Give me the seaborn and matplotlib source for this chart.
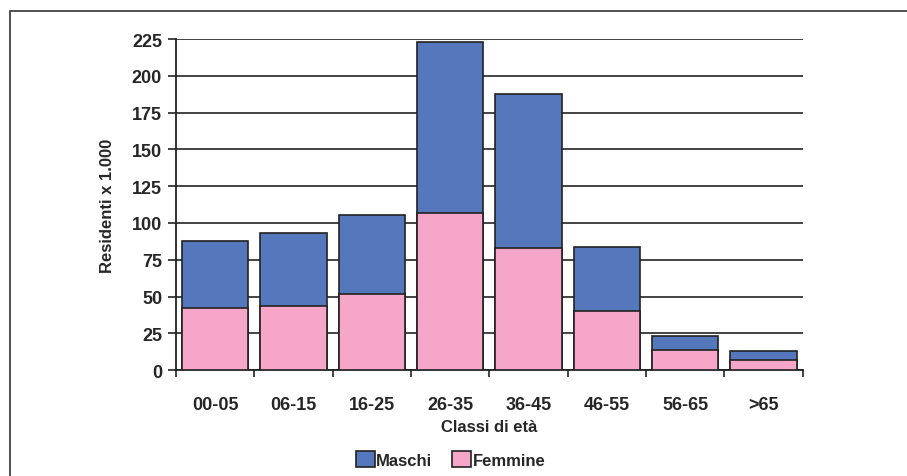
import numpy as np
import pandas as pd
import matplotlib
matplotlib.use("Agg")
import matplotlib.pyplot as plt
import seaborn as sns
from matplotlib.patches import Patch, Rectangle

# Data (thousands of residents)
classi = ["00-05", "06-15", "16-25", "26-35", "36-45", "46-55", "56-65", ">65"]
femmine = [42, 43.5, 51.5, 107, 83, 40, 14, 7]
totale = [87.5, 93, 105.5, 223, 188, 83.5, 23.5, 13]

BLUE = "#5577bb"
PINK = "#f5a6c9"
EDGE = "#222222"

sns.set_theme(style="white")
plt.rcParams["font.family"] = ["Liberation Sans", "DejaVu Sans"]
plt.rcParams["font.weight"] = "bold"

df = pd.DataFrame({"classe": classi, "femmine": femmine, "totale": totale})

fig = plt.figure(figsize=(9.07, 4.77), dpi=100)
ax = fig.add_axes([0.194, 0.222, 0.691, 0.694])

# outer frame of the picture
fig.patches.append(Rectangle((0.011, -0.1), 1.1, 1.075, transform=fig.transFigure,
                             fill=False, edgecolor="#333333", linewidth=1.2))

sns.barplot(data=df, x="classe", y="totale", color=BLUE, width=0.85,
            edgecolor=EDGE, linewidth=1.2, saturation=1, ax=ax, zorder=3)
sns.barplot(data=df, x="classe", y="femmine", color=PINK, width=0.85,
            edgecolor=EDGE, linewidth=1.2, saturation=1, ax=ax, zorder=3)

ax.set_ylim(0, 225)
ax.set_xlim(-0.5, len(classi) - 0.5)
ax.set_yticks(np.arange(0, 226, 25))
ax.yaxis.grid(True, color="#111111", linewidth=1.1, zorder=0)
ax.set_axisbelow(True)

for s in ["top", "right"]:
    ax.spines[s].set_visible(False)
for s in ["left", "bottom"]:
    ax.spines[s].set_color("#222222")
    ax.spines[s].set_linewidth(1.3)

ax.set_xticks(np.arange(-0.5, len(classi)), minor=True)
ax.tick_params(axis="x", which="major", length=0, pad=19, labelsize=13)
ax.tick_params(axis="x", which="minor", length=5, width=1.2, color="#222222", bottom=True)
ax.tick_params(axis="y", length=6, width=1.2, color="#222222", left=True, labelsize=13, pad=4)

ax.set_xlabel("Classi di età", fontsize=12, fontweight="bold", labelpad=4)
ax.set_ylabel("Residenti x 1.000", fontsize=12, fontweight="bold", labelpad=12)

handles = [Patch(facecolor=BLUE, edgecolor=EDGE, linewidth=1.2, label="Maschi"),
           Patch(facecolor=PINK, edgecolor=EDGE, linewidth=1.2, label="Femmine")]
fig.legend(handles=handles, loc="center", bbox_to_anchor=(0.497, 0.034), ncol=2,
           frameon=False, handlelength=1.1, handleheight=1.1,
           handletextpad=0.1, columnspacing=1.2, prop={"weight": "bold", "size": 12})

fig.savefig("out.png", dpi=100)
